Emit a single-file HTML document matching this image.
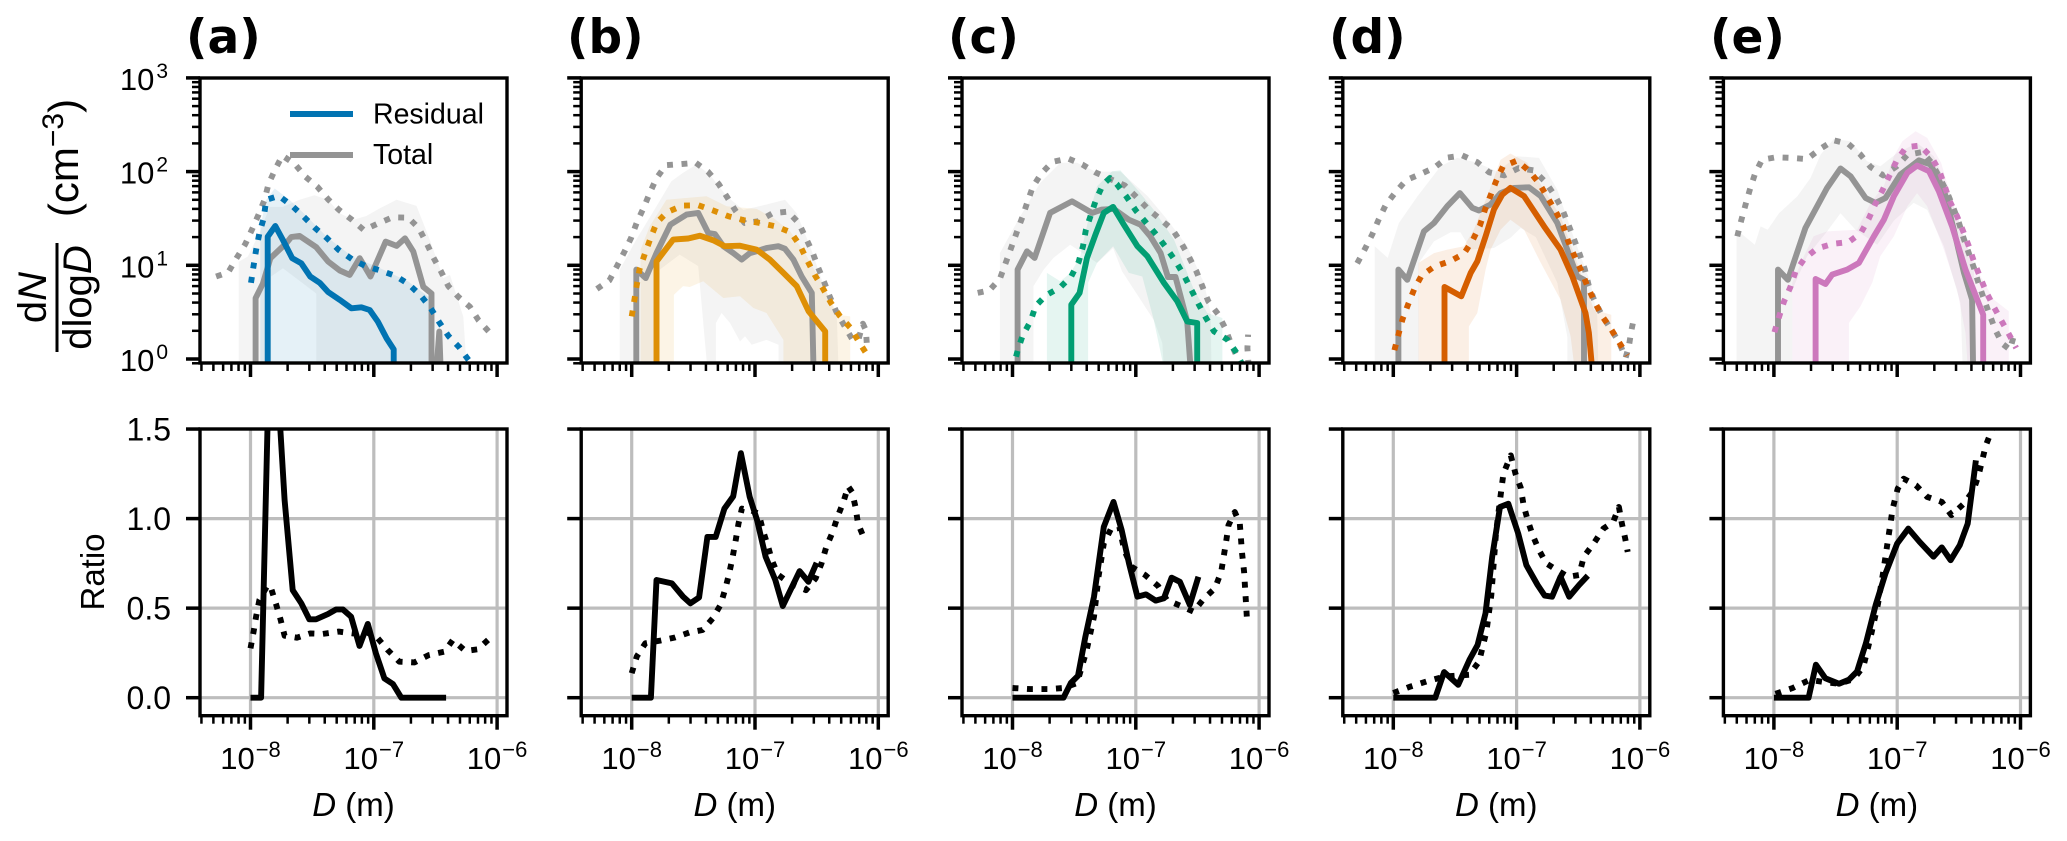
<!DOCTYPE html>
<html lang="en">
<head>
<meta charset="utf-8">
<title>Particle size distributions</title>
<style>
html,body{margin:0;padding:0;background:#fff;}
svg{display:block;font-family:"Liberation Sans",sans-serif;}
</style>
</head>
<body>
<svg id="figure" xmlns="http://www.w3.org/2000/svg" width="2067" height="841" viewBox="0 0 2067 841">
<rect width="2067" height="841" fill="#fff"/>
<g id="plot-area"></g>

<g font-family="'DejaVu Sans',sans-serif" font-weight="700" font-size="47" fill="#000">
<text x="186" y="53">(a)</text>
<text x="567" y="53">(b)</text>
<text x="948" y="53">(c)</text>
<text x="1329" y="53">(d)</text>
<text x="1710" y="53">(e)</text>
</g>

<g fill="#000" text-anchor="middle" font-size="40">
<text transform="translate(46,297.5) rotate(-90)">d<tspan font-style="italic">N</tspan></text>
<line x1="57" x2="57" y1="243" y2="352" stroke="#000" stroke-width="3"/>
<text transform="translate(91,297.5) rotate(-90)">dlog<tspan font-style="italic">D</tspan></text>
<text transform="translate(78,158) rotate(-90)" font-size="42">(cm<tspan dy="-15" font-size="30">−3</tspan><tspan dy="15">)</tspan></text>
</g>
<text transform="translate(104,572) rotate(-90)" text-anchor="middle" font-size="33" fill="#000">Ratio</text>

<g text-anchor="middle" font-size="33" fill="#000">
<text x="353.5" y="816"><tspan font-style="italic">D</tspan> (m)</text>
<text x="734.7" y="816"><tspan font-style="italic">D</tspan> (m)</text>
<text x="1115.5" y="816"><tspan font-style="italic">D</tspan> (m)</text>
<text x="1496.3" y="816"><tspan font-style="italic">D</tspan> (m)</text>
<text x="1876.9" y="816"><tspan font-style="italic">D</tspan> (m)</text>
</g>

<g>
<line x1="290" x2="353" y1="114" y2="114" stroke="#0173b2" stroke-width="6"/>
<text x="373" y="123.5" font-size="28.5" fill="#000">Residual</text>
<line x1="290" x2="353" y1="155" y2="155" stroke="#949494" stroke-width="6"/>
<text x="373" y="164" font-size="28.5" fill="#000">Total</text>
</g>
</svg>

<script>
// Tick definitions
const xTickExponents = [-8, -7, -6];
const yTopExponents = [0, 1, 2, 3];
const ratioTicks = [0, 0.5, 1, 1.5];
const ratioTickLabels = ['0.0', '0.5', '1.0', '1.5'];
const ratioGrid = [0, 0.5, 1];
const minorMultipliers = [2, 3, 4, 5, 6, 7, 8, 9];

// Panel (a): D in nm, N in cm^-3
const aAllD = [11, 11, 12.6, 14.5, 19.5, 21.4, 25, 34.2, 42.5, 53, 63.8, 76.9, 94, 125, 153, 179, 209, 252, 294, 294, 323, 340, 348];
const aAllN = [0.8, 4.45, 6.4, 11.9, 17.2, 20, 20.6, 15.6, 11, 8.8, 7.9, 11.9, 7.6, 17.9, 16.1, 19.4, 14, 5.9, 5, 0.8, 0.8, 1.96, 0.8];
const aAllMaxD = [5.26, 6.6, 7.7, 9.05, 10.3, 11.6, 13, 14, 15.9, 18.1, 22.8, 27.8, 34.8, 42.5, 52.2, 66.7, 83, 106, 142, 190, 232, 268, 303, 351, 402, 485, 603, 705, 910];
const aAllMaxN = [7.6, 8.4, 11.9, 16.8, 24.2, 34.5, 49.9, 73.8, 106, 148, 121, 88.5, 69, 50.7, 39, 30.5, 23.8, 27.6, 32.5, 32.3, 24.8, 17.2, 12.2, 8.6, 6, 4.6, 3.6, 2.6, 1.8];
const aSubD = [13.8, 13.8, 15.9, 18.3, 21.8, 25.8, 30.5, 36.4, 42.5, 53, 65.8, 79.4, 92.7, 108, 127, 145, 145];
const aSubN = [0.8, 20.2, 26.3, 18.6, 11.9, 10.5, 7.6, 6.5, 5.2, 4.27, 3.48, 3.56, 3.33, 2.5, 1.66, 1.27, 0.8];
const aSubMaxD = [10.1, 10.6, 11.1, 11.8, 12.8, 13.4, 17, 21.8, 27, 33.6, 41.8, 51.9, 66.7, 85.5, 113, 150, 191, 241, 290, 337, 402, 494, 585, 684];
const aSubMaxN = [6.5, 9.9, 14.6, 22, 31.8, 49.9, 55, 43, 33, 24.8, 19.4, 14.6, 11.6, 9.84, 8.8, 7.7, 6.3, 4.74, 3.48, 2.5, 1.77, 1.33, 0.98, 0.76];
const aAllBandTopD = [8.04, 8.04, 9.5, 11.8, 14.3, 18.3, 25, 33, 42.5, 53, 68, 87, 112, 153, 222, 285, 366, 415, 532, 567];
const aAllBandTopN = [0.8, 10.9, 12.4, 22, 42, 42, 50, 56, 50, 36, 30.5, 33.6, 40.6, 50, 43, 18.6, 7.3, 7.9, 2.83, 0.8];
const aAllBandLowD = [8.04, 14.7, 14.7, 18.3, 34.2, 34.2, 567];
const aAllBandLowN = [0.8, 0.8, 7.6, 9.3, 5, 0.8, 0.8];
const aSubBandTopD = [12, 12, 13.4, 15.7, 20.7, 27, 41.8, 66.7, 113, 191, 277, 277];
const aSubBandTopN = [0.8, 25.9, 49.9, 66, 50, 36, 20, 12.4, 9.3, 6.7, 4.6, 0.8];
const aSubBandLowD = [12, 277];
const aSubBandLowN = [0.8, 0.8];
const aRatioD = [10, 12.2, 14.4, 16.1, 18.9, 22, 25.8, 30, 34, 42.4, 49.5, 56, 65.5, 76.5, 89.4, 104, 122, 143, 167, 386];
const aRatioV = [0, 0, 2.1, 1.9, 1.104, 0.601, 0.527, 0.438, 0.438, 0.467, 0.493, 0.493, 0.452, 0.289, 0.412, 0.248, 0.108, 0.076, 0, 0];
const aRatioMaxD = [10, 10.6, 11.1, 11.8, 13.8, 14.7, 16.1, 17.5, 18.9, 23.8, 30.5, 38.6, 52, 67.6, 81.5, 108, 130, 161, 214, 279, 374, 437, 553, 697, 867];
const aRatioMaxV = [0.276, 0.369, 0.453, 0.546, 0.629, 0.611, 0.523, 0.438, 0.346, 0.335, 0.359, 0.356, 0.369, 0.359, 0.378, 0.331, 0.266, 0.201, 0.197, 0.238, 0.257, 0.322, 0.261, 0.27, 0.33];

// Panel (b)
const bAllD = [10.9, 10.9, 13, 15.9, 20.6, 27.8, 34.6, 41.8, 47.3, 55.3, 66.7, 78, 91, 103, 124, 155, 175, 205, 239, 289, 298];
const bAllN = [0.8, 9, 7.3, 13.5, 27.2, 34.8, 36.2, 22.1, 21.6, 16, 13.5, 11.5, 13.5, 14.1, 15.3, 16, 15, 11.5, 7.6, 5.07, 0.8];
const bAllMaxD = [5.22, 6.6, 7.6, 8.7, 9.9, 11, 12.5, 14, 15.9, 18.9, 24.5, 33.1, 41.5, 50.7, 59.6, 69.7, 82.4, 106, 139, 185, 226, 257, 292, 325, 364, 405, 456, 530, 622, 692, 750, 794, 809];
const bAllMaxN = [5.6, 6.9, 9.8, 13.8, 19.7, 28.6, 41, 59, 85, 117, 120, 124, 100, 74, 53, 38, 28.3, 29.5, 36, 37.4, 28.3, 19.9, 13.9, 9.5, 6.6, 4.6, 3.2, 2.27, 1.58, 1.64, 2.38, 2.02, 1.36];
const bSubD = [15.9, 15.9, 21.7, 28.7, 35.7, 45.8, 57, 75.5, 103, 132, 170, 218, 272, 371, 371];
const bSubN = [0.8, 11, 18.8, 19.3, 20.7, 18.5, 16, 16.2, 14.7, 11.5, 8.3, 6, 3.23, 1.97, 0.8];
const bSubMaxD = [10, 10.5, 11, 11.6, 12.8, 14.2, 15.9, 19.4, 25.8, 34.8, 45.8, 61, 81.8, 110, 148, 195, 232, 263, 305, 355, 412, 485, 596, 692, 819];
const bSubMaxN = [2.85, 4.2, 6.2, 9.1, 13.3, 19.4, 28.3, 37, 43.4, 43.7, 38.4, 33.3, 30.2, 28.3, 26, 22.5, 16.2, 11.5, 7.9, 5.7, 4, 2.9, 2.14, 1.54, 1.09];
const bAllBandTopD = [8, 8, 10.9, 15.9, 21, 26.1, 33.6, 43, 58.9, 80.4, 124, 175, 218, 280, 355, 461, 476];
const bAllBandTopN = [0.8, 9, 18.8, 42.7, 79, 97, 119, 93, 54.6, 39, 44.5, 50, 36, 16, 6.5, 2.85, 0.8];
const bAllBandLowD = [8, 16.9, 16.9, 24.5, 34.6, 41, 48.2, 48.2, 53.6, 62.7, 75.5, 83, 94, 124, 155, 155, 476];
const bAllBandLowN = [0.8, 0.8, 9, 13, 9.8, 0.8, 0.8, 2.42, 3.1, 2.42, 1.54, 1.75, 1.42, 1.6, 1.42, 0.8, 0.8];
const bSubBandTopD = [11.8, 11.8, 14, 19.1, 26.1, 40.4, 58.9, 103, 141, 193, 263, 383, 470, 592, 592];
const bSubBandTopN = [0.8, 14.7, 26, 50, 52, 54.6, 42.7, 40, 32, 23, 12.5, 5.07, 2.97, 2.85, 0.8];
const bSubBandLowD = [11.8, 22, 22, 26.1, 29.6, 38, 55.3, 75.5, 97, 124, 170, 170, 592];
const bSubBandLowN = [0.8, 0.8, 4.86, 6, 5.87, 6.75, 4.48, 4.67, 3.5, 3.1, 1.6, 0.8, 0.8];
const bRatioD = [10, 14.3, 15.9, 21.2, 26.1, 29.9, 35.2, 41.1, 48, 56.5, 66.5, 76.9, 90.6, 104, 122, 146, 168, 230, 271, 316];
const bRatioV = [0, 0, 0.657, 0.638, 0.564, 0.527, 0.56, 0.898, 0.898, 1.056, 1.124, 1.365, 1.121, 0.991, 0.787, 0.657, 0.512, 0.707, 0.647, 0.753];
const bRatioMaxD = [10, 11, 12.9, 17, 22.4, 29.4, 37.6, 45.4, 52.5, 57.5, 61.8, 65.9, 69.7, 73.5, 78.3, 93, 107, 117, 128, 137, 153, 192, 259, 310, 346, 379, 427, 467, 521, 570, 613, 653, 684, 769];
const bRatioMaxV = [0.137, 0.23, 0.304, 0.319, 0.336, 0.364, 0.378, 0.443, 0.518, 0.61, 0.694, 0.787, 0.879, 0.972, 1.056, 1.046, 1.028, 0.926, 0.842, 0.768, 0.688, 0.638, 0.601, 0.666, 0.75, 0.842, 0.926, 1.009, 1.093, 1.18, 1.148, 1.065, 0.972, 0.889];

// Panel (c)
const cAllD = [11, 11, 13.1, 15.1, 20.2, 30.4, 44.2, 53, 66.2, 87.7, 109, 131, 159, 182, 210, 261, 278];
const cAllN = [0.8, 9, 14.1, 12, 36.2, 48.2, 36.2, 39.3, 40, 30.7, 27.2, 20.4, 13.5, 7.5, 7.5, 2.52, 0.8];
const cAllMaxD = [5.22, 6.5, 7.9, 8.8, 9.75, 10.8, 12, 13.2, 14.6, 17.1, 21.1, 28.2, 36.8, 47, 61.8, 81.5, 101, 125, 157, 199, 234, 270, 310, 346, 387, 464, 530, 589, 667, 755, 819, 804, 815];
const cAllMaxN = [5.07, 5.4, 7.2, 10.6, 15.3, 22.3, 32.5, 47.4, 68.6, 95, 127, 138, 119, 98, 83.5, 71, 53.7, 40.3, 31.2, 24, 17.3, 12.3, 8.6, 6, 4.13, 3.02, 2.14, 1.48, 1.03, 0.77, 0.91, 1.31, 1.82];
const cSubD = [30, 30, 35, 40.2, 47, 55, 65.4, 79.9, 103, 124, 169, 217, 261, 315, 315];
const cSubN = [0.8, 3.8, 5.07, 12, 21.2, 36.2, 42, 27.2, 16, 12.5, 6.5, 4.13, 2.52, 2.42, 0.8];
const cSubMaxD = [10, 11, 12.1, 14, 15.4, 18.7, 24.4, 30, 34.4, 37.3, 39.4, 43.3, 47.6, 54.2, 61.8, 70, 84, 100, 121, 147, 177, 210, 244, 280, 321, 368, 431, 553, 658, 731];
const cSubMaxN = [0.75, 1.23, 1.79, 2.52, 3.68, 4.79, 5.82, 7.63, 10.9, 16, 24, 34.8, 50, 72.6, 85.5, 73.8, 54, 38.4, 28.6, 21.2, 15.3, 11.1, 7.95, 5.59, 3.9, 2.79, 1.97, 1.61, 1.16, 0.87];
const cAllBandTopD = [7.9, 7.9, 11.5, 16.8, 24.4, 33.4, 47, 75, 125, 180, 261, 357, 405, 410];
const cAllBandTopN = [0.8, 13.5, 33, 76, 124, 124, 100, 100, 54.6, 30.7, 16, 6.5, 3.1, 0.8];
const cAllBandLowD = [7.9, 14.8, 14.8, 17.9, 21.5, 29.4, 48.5, 65.4, 77.4, 140, 164, 169, 410];
const cAllBandLowN = [0.8, 0.8, 6, 9, 12, 16.6, 10.6, 15.3, 8.6, 2.6, 1.48, 0.8, 0.8];
const cSubBandTopD = [19, 19, 24.4, 29.6, 35.5, 42.8, 48.5, 64.3, 75, 103, 140, 204, 296, 380, 504, 504];
const cSubBandTopN = [0.8, 8.3, 6.75, 8.3, 12.5, 39, 70, 101, 103, 64, 39, 18.8, 5.5, 3.1, 2.74, 0.8];
const cSubBandLowD = [19, 41, 41, 48.5, 65.4, 87.7, 113, 140, 169, 504];
const cSubBandLowN = [0.8, 0.8, 6.5, 10.6, 16, 8.3, 7.6, 2.6, 0.8, 0.8];
const cRatioD = [10, 25.9, 29.7, 34, 39, 45.8, 55, 65.9, 76.9, 88, 103, 121, 145, 169, 195, 228, 274, 322];
const cRatioV = [0, 0, 0.082, 0.122, 0.341, 0.564, 0.954, 1.093, 0.935, 0.75, 0.564, 0.577, 0.542, 0.555, 0.67, 0.647, 0.518, 0.675];
const cRatioMaxD = [10, 14, 19.7, 25.9, 33.4, 40, 45.8, 49.8, 55, 64.1, 73.5, 80.5, 92.2, 119, 152, 179, 239, 294, 359, 438, 493, 540, 565, 635, 697, 728, 755, 783, 798];
const cRatioMaxV = [0.054, 0.048, 0.048, 0.054, 0.082, 0.267, 0.453, 0.675, 0.861, 0.954, 0.954, 0.824, 0.731, 0.685, 0.623, 0.545, 0.508, 0.481, 0.555, 0.61, 0.703, 0.87, 0.963, 1.037, 0.972, 0.805, 0.703, 0.527, 0.434];

// Panel (d)
const dAllD = [11, 11, 13, 17.7, 21.4, 27.4, 34.7, 43.7, 49.5, 61.5, 74.2, 95, 126, 157, 214, 310, 352, 352];
const dAllN = [0.8, 9, 7, 23, 28.3, 42.7, 59, 41, 38.4, 44.5, 59, 67, 68, 54.6, 28.3, 7.63, 7, 0.8];
const dAllMaxD = [5.1, 5.9, 6.76, 7.6, 8.67, 10.4, 12.7, 16.6, 21.5, 27.4, 36.2, 48, 60, 79.4, 104, 138, 172, 203, 234, 262, 292, 324, 358, 384, 424, 489, 578, 676, 765, 815, 851, 905];
const dAllMaxN = [10.5, 15, 21.4, 30.7, 44, 60, 81, 94, 110, 141, 149, 126, 98, 91, 109, 103, 77, 56, 40, 27.6, 19, 13.2, 9, 6.17, 4.3, 2.97, 2.11, 1.52, 1.03, 1.37, 2, 2.95];
const dSubD = [26, 26, 35.6, 42.4, 48, 56, 65.5, 76.5, 89, 115, 167, 227, 283, 362, 386, 411];
const dSubN = [0.8, 5.87, 4.67, 8.3, 11, 20.4, 39.3, 56.8, 67, 54.6, 26, 14.7, 7.63, 3.1, 1.9, 0.75];
const dSubMaxD = [10.2, 11, 11.9, 13.2, 14.8, 17, 21.6, 29, 37.4, 44, 50.4, 55.4, 61.5, 68.4, 77.5, 101, 127, 153, 178, 207, 238, 261, 295, 334, 374, 424, 489, 578, 676, 789];
const dSubMaxN = [1.24, 1.82, 2.67, 3.84, 5.59, 7.8, 9.7, 11.1, 13.3, 18.5, 26.5, 39.3, 55.9, 80, 114, 131, 101, 74.5, 53, 37.7, 26.7, 18.2, 12.5, 8.77, 6.07, 4.2, 2.93, 2.13, 1.52, 1.09];
const dAllBandTopD = [7.06, 7.06, 9, 11.1, 15.7, 24.2, 33, 48, 69.7, 101, 152, 214, 295, 398, 451, 460];
const dAllBandTopN = [0.8, 16, 12, 28.3, 54.6, 114, 140, 124, 100, 146, 140, 64, 18.8, 6.5, 2.85, 0.8];
const dAllBandLowD = [7.06, 16.1, 16.1, 21.4, 29.2, 35, 42.4, 65.5, 89, 108, 143, 214, 258, 258, 460];
const dAllBandLowN = [0.8, 0.8, 10.6, 18, 22.5, 22.5, 14.7, 15.3, 19.6, 25, 20, 6.5, 1.7, 0.8, 0.8];
const dSubBandTopD = [16, 16, 21.4, 27.4, 37.4, 45, 57.8, 74.2, 89, 122, 167, 227, 310, 424, 586, 586];
const dSubBandTopN = [0.8, 10.6, 13.5, 14.7, 16, 24, 54.6, 134, 156, 124, 64, 33.3, 10.6, 3.36, 2.97, 0.8];
const dSubBandLowD = [16, 41, 41, 48, 56, 61.5, 74.2, 89, 115, 157, 227, 274, 295, 586];
const dSubBandLowN = [0.8, 0.8, 2.23, 3.1, 9, 14.7, 24, 30.7, 24, 10.6, 4.3, 1.75, 0.8, 0.8];
const dRatioD = [10, 21.9, 25.8, 33.6, 41.4, 48.3, 55.9, 63.4, 73.4, 85.7, 103, 120, 148, 169, 194, 227, 267, 321, 378];
const dRatioV = [0, 0, 0.143, 0.072, 0.211, 0.295, 0.471, 0.787, 1.065, 1.083, 0.917, 0.74, 0.629, 0.57, 0.564, 0.675, 0.564, 0.629, 0.681];
const dRatioMaxD = [10, 13.9, 18.7, 26.2, 41.4, 49.6, 56.9, 62.3, 65.2, 68.2, 73.4, 78.2, 89.7, 98, 108, 114, 123, 135, 152, 174, 213, 262, 321, 351, 422, 506, 607, 676, 714, 760, 796];
const dRatioMaxV = [0.026, 0.063, 0.091, 0.119, 0.128, 0.202, 0.369, 0.573, 0.75, 0.926, 1.102, 1.25, 1.353, 1.25, 1.173, 1.074, 0.991, 0.907, 0.824, 0.75, 0.712, 0.675, 0.685, 0.787, 0.861, 0.944, 0.981, 1.065, 0.972, 0.889, 0.814];

// Panel (e)
const eAllD = [10.8, 10.8, 13, 18, 27, 34.7, 41.9, 55.4, 66.7, 80.4, 106, 150, 186, 239, 288, 348, 405, 413];
const eAllN = [0.8, 9, 7, 25, 67, 108, 89, 52.3, 46.3, 52.3, 93, 132, 119, 64, 24, 8.3, 4.3, 0.8];
const eAllMaxD = [5.05, 5.43, 5.89, 6.38, 7.01, 8, 10.4, 14.1, 18.6, 23.9, 30.6, 40.3, 50.4, 60.8, 77, 99, 121, 160, 190, 222, 254, 284, 316, 345, 381, 419, 459, 505, 561, 624, 710, 820, 893];
const eAllMaxN = [20.4, 30, 44.5, 64, 94, 134, 142, 140, 136, 176, 216, 197, 152, 112, 91, 114, 151, 162, 124, 85.5, 60, 41.6, 28.8, 19.6, 13.5, 9.4, 6.3, 4.37, 3, 2.06, 1.46, 1.26, 1.85];
const eSubD = [21.8, 21.8, 26.2, 29.7, 39.3, 48.9, 64.7, 78, 94, 121, 145, 181, 218, 279, 358, 498, 498];
const eSubN = [0.8, 7.15, 6.32, 7.95, 9, 10.6, 20.4, 30.7, 54.6, 97, 116, 101, 61.7, 26, 9, 2.97, 0.8];
const eSubMaxD = [10.1, 11, 12.1, 13.6, 15, 17.7, 22.4, 29.9, 40.3, 50.7, 58.6, 66.4, 76, 86.7, 99, 118, 153, 190, 220, 243, 267, 306, 343, 381, 419, 468, 527, 600, 697, 804, 923];
const eSubMaxN = [1.93, 2.81, 4.13, 5.87, 8.63, 11.8, 15.1, 16.9, 17.7, 22.1, 31.2, 45.2, 63.2, 91.4, 131, 182, 190, 142, 101, 70, 48.2, 33.3, 23, 16, 11, 7.63, 5.19, 3.71, 2.59, 1.85, 1.31];
const eAllBandTopD = [4.98, 4.98, 7, 7.8, 8.9, 11, 15.5, 19.8, 23.9, 30.6, 41.9, 57, 73, 100, 145, 198, 254, 348, 419, 430];
const eAllBandTopN = [0.8, 24, 16.6, 26, 24, 36, 54.6, 85.5, 152, 223, 211, 129, 114, 158, 202, 146, 70, 20.4, 9.75, 0.8];
const eAllBandLowD = [4.98, 14.1, 14.1, 18.6, 27, 34.7, 45.9, 68.8, 94, 136, 175, 239, 326, 340, 430];
const eAllBandLowN = [0.8, 0.8, 5.5, 12.5, 23, 36, 24, 16.6, 30, 46.3, 39, 16, 3.96, 0.8, 0.8];
const eSubBandTopD = [14.1, 14.1, 17.5, 21, 27, 47.4, 60.8, 78, 94, 110, 141, 175, 227, 288, 370, 474, 608, 804, 804];
const eSubBandTopN = [0.8, 6.5, 12.5, 20.4, 23, 24, 46.3, 70, 146, 211, 270, 229, 124, 42.7, 16, 7.63, 4.3, 3.23, 0.8];
const eSubBandLowD = [14.1, 40.6, 40.6, 50.4, 62.7, 73, 94, 121, 145, 175, 239, 306, 358, 374, 804];
const eSubBandLowN = [0.8, 0.8, 2.42, 3.65, 6.5, 12.5, 20.4, 42.7, 59, 42.7, 14.7, 5.5, 1.9, 0.8, 0.8];
const eRatioD = [10, 19.1, 21.9, 26.1, 33.7, 40.5, 47.3, 55.7, 66.9, 80.3, 100, 123, 152, 197, 230, 271, 322, 373, 435];
const eRatioV = [0, 0, 0.184, 0.109, 0.078, 0.1, 0.147, 0.304, 0.518, 0.694, 0.861, 0.944, 0.87, 0.787, 0.839, 0.768, 0.852, 0.972, 1.325];
const eRatioMaxD = [10.3, 14.2, 19.5, 26.8, 33.7, 44.3, 53.2, 61, 70, 76.7, 84, 92, 101, 113, 142, 175, 230, 275, 347, 416, 456, 523, 583, 656];
const eRatioMaxV = [0.022, 0.054, 0.1, 0.085, 0.078, 0.104, 0.174, 0.341, 0.527, 0.694, 0.879, 1.056, 1.167, 1.223, 1.186, 1.121, 1.093, 1.019, 1.083, 1.158, 1.241, 1.408, 1.492, 1.585];

// Layout and style (separate from data)
const NS = 'http://www.w3.org/2000/svg';
const AX_W = 307;
const TOP_Y0 = 78, TOP_Y1 = 363;
const RATIO_Y0 = 429, RATIO_Y1 = 715.7;
const GREY = '#949494';
const panels = [
  {id: 'a', left: 200, color: '#0173b2', all: [aAllD, aAllN], allMax: [aAllMaxD, aAllMaxN], sub: [aSubD, aSubN], subMax: [aSubMaxD, aSubMaxN], allTop: [aAllBandTopD, aAllBandTopN], allLow: [aAllBandLowD, aAllBandLowN], subTop: [aSubBandTopD, aSubBandTopN], subLow: [aSubBandLowD, aSubBandLowN], ratio: [aRatioD, aRatioV], ratioMax: [aRatioMaxD, aRatioMaxV]},
  {id: 'b', left: 581.2, color: '#de8f05', all: [bAllD, bAllN], allMax: [bAllMaxD, bAllMaxN], sub: [bSubD, bSubN], subMax: [bSubMaxD, bSubMaxN], allTop: [bAllBandTopD, bAllBandTopN], allLow: [bAllBandLowD, bAllBandLowN], subTop: [bSubBandTopD, bSubBandTopN], subLow: [bSubBandLowD, bSubBandLowN], ratio: [bRatioD, bRatioV], ratioMax: [bRatioMaxD, bRatioMaxV]},
  {id: 'c', left: 962, color: '#029e73', all: [cAllD, cAllN], allMax: [cAllMaxD, cAllMaxN], sub: [cSubD, cSubN], subMax: [cSubMaxD, cSubMaxN], allTop: [cAllBandTopD, cAllBandTopN], allLow: [cAllBandLowD, cAllBandLowN], subTop: [cSubBandTopD, cSubBandTopN], subLow: [cSubBandLowD, cSubBandLowN], ratio: [cRatioD, cRatioV], ratioMax: [cRatioMaxD, cRatioMaxV]},
  {id: 'd', left: 1342.8, color: '#d55e00', all: [dAllD, dAllN], allMax: [dAllMaxD, dAllMaxN], sub: [dSubD, dSubN], subMax: [dSubMaxD, dSubMaxN], allTop: [dAllBandTopD, dAllBandTopN], allLow: [dAllBandLowD, dAllBandLowN], subTop: [dSubBandTopD, dSubBandTopN], subLow: [dSubBandLowD, dSubBandLowN], ratio: [dRatioD, dRatioV], ratioMax: [dRatioMaxD, dRatioMaxV]},
  {id: 'e', left: 1723.4, color: '#cc78bc', all: [eAllD, eAllN], allMax: [eAllMaxD, eAllMaxN], sub: [eSubD, eSubN], subMax: [eSubMaxD, eSubMaxN], allTop: [eAllBandTopD, eAllBandTopN], allLow: [eAllBandLowD, eAllBandLowN], subTop: [eSubBandTopD, eSubBandTopN], subLow: [eSubBandLowD, eSubBandLowN], ratio: [eRatioD, eRatioV], ratioMax: [eRatioMaxD, eRatioMaxV]}
];

// Axis functions
function xScale(left, dNm) { return left + 50.5 + 123.3 * (Math.log10(dNm) - 1); }
function yTop(n) { return 359 - 93.7 * Math.log10(n); }
function yRatio(r) { return 697.7 - 179.1 * r; }

const root = document.getElementById('plot-area');

function make(tag, parent, attrs) {
  const el = document.createElementNS(NS, tag);
  for (const k in attrs) el.setAttribute(k, attrs[k]);
  parent.appendChild(el);
  return el;
}

function drawLine(parent, left, series, yFn, color, dotted, clip, name) {
  const pts = series[0].map((d, i) => xScale(left, d).toFixed(1) + ',' + yFn(series[1][i]).toFixed(1));
  const el = make('polyline', parent, {points: pts.join(' '), fill: 'none', stroke: color, 'stroke-width': 5.9, 'stroke-linejoin': 'round', 'clip-path': 'url(#' + clip + ')'});
  if (dotted) el.setAttribute('stroke-dasharray', '5.9 8.6');
  
  
}

function drawBand(parent, left, top, low, color, opacity, clip, name) {
  const upper = top[0].map((d, i) => xScale(left, d).toFixed(1) + ',' + yTop(top[1][i]).toFixed(1));
  const lower = low[0].map((d, i) => xScale(left, d).toFixed(1) + ',' + yTop(low[1][i]).toFixed(1)).reverse();
  const el = make('polygon', parent, {points: upper.concat(lower).join(' '), fill: color, 'fill-opacity': opacity, stroke: 'none', 'clip-path': 'url(#' + clip + ')'});
  
  
}

function drawTick(parent, x1, y1, x2, y2, major) {
  const el = make('line', parent, {x1: x1, y1: y1, x2: x2, y2: y2, stroke: '#000', 'stroke-width': major ? 3.5 : 2.5});
  
  
}

function drawXTicks(parent, left, yBase) {
  const right = left + AX_W;
  [-9, -8, -7, -6].forEach(function (exp) {
    minorMultipliers.concat([10]).forEach(function (m) {
      const x = xScale(left, m * Math.pow(10, exp + 9));
      if (x < left - 1 || x > right + 1) return;
      const major = m === 10;
      drawTick(parent, x, yBase, x, yBase + (major ? 14 : 8), major);
    });
  });
}

function drawSpine(parent, left, y0, y1, name) {
  const el = make('rect', parent, {x: left, y: y0, width: AX_W, height: y1 - y0, fill: 'none', stroke: '#000', 'stroke-width': 3.4});
  
  
}

const defs = make('defs', root, {});

panels.forEach(function (p, idx) {
  const g = make('g', root, {});
  
  

  const clipTop = 'clip-top-' + p.id;
  const clipRatio = 'clip-ratio-' + p.id;
  const c1 = make('clipPath', defs, {id: clipTop});
  make('rect', c1, {x: p.left, y: TOP_Y0, width: AX_W, height: TOP_Y1 - TOP_Y0});
  const c2 = make('clipPath', defs, {id: clipRatio});
  make('rect', c2, {x: p.left, y: RATIO_Y0, width: AX_W, height: RATIO_Y1 - RATIO_Y0});

  // Distribution axes
  const topG = make('g', g, {});
  
  
  drawBand(topG, p.left, p.allTop, p.allLow, '#808080', 0.09, clipTop, 'total-range-band');
  drawBand(topG, p.left, p.subTop, p.subLow, p.color, 0.1, clipTop, 'residual-range-band');
  drawLine(topG, p.left, p.allMax, yTop, GREY, true, clipTop, 'total-dotted-line');
  drawLine(topG, p.left, p.all, yTop, GREY, false, clipTop, 'total-line');
  drawLine(topG, p.left, p.subMax, yTop, p.color, true, clipTop, 'residual-dotted-line');
  drawLine(topG, p.left, p.sub, yTop, p.color, false, clipTop, 'residual-line');
  drawSpine(topG, p.left, TOP_Y0, TOP_Y1, 'distribution-axes-frame');
  drawXTicks(topG, p.left, TOP_Y1);

  const decades = [-1, 0, 1, 2];
  decades.forEach(function (dec) {
    minorMultipliers.forEach(function (m) {
      const y = yTop(m * Math.pow(10, dec));
      if (y > TOP_Y1 + 1 || y < TOP_Y0 - 1) return;
      drawTick(topG, p.left - 8, y, p.left, y, false);
    });
  });
  yTopExponents.forEach(function (exp) {
    const y = yTop(Math.pow(10, exp));
    drawTick(topG, p.left - 14, y, p.left, y, true);
    if (idx === 0) {
      const t = make('text', topG, {x: 168, y: y + 12, 'text-anchor': 'end', 'font-size': 31, fill: '#000'});
      
      
      t.appendChild(document.createTextNode('10'));
      const s = make('tspan', t, {dy: -12, 'font-size': 21, dx: 2});
      s.textContent = String(exp);
    }
  });

  // Ratio axes
  const botG = make('g', g, {});
  
  
  xTickExponents.forEach(function (exp) {
    const x = xScale(p.left, Math.pow(10, exp + 9));
    const gl = make('line', botG, {x1: x, x2: x, y1: RATIO_Y0, y2: RATIO_Y1, stroke: '#bdbdbd', 'stroke-width': 3.2});
    
    
  });
  ratioGrid.forEach(function (r) {
    const y = yRatio(r);
    const gl = make('line', botG, {x1: p.left, x2: p.left + AX_W, y1: y, y2: y, stroke: '#bdbdbd', 'stroke-width': 3.2});
    
    
  });
  drawLine(botG, p.left, p.ratioMax, yRatio, '#000', true, clipRatio, 'ratio-dotted-line');
  drawLine(botG, p.left, p.ratio, yRatio, '#000', false, clipRatio, 'ratio-line');
  drawSpine(botG, p.left, RATIO_Y0, RATIO_Y1, 'ratio-axes-frame');
  drawXTicks(botG, p.left, RATIO_Y1);
  ratioTicks.forEach(function (r, i) {
    const y = yRatio(r);
    drawTick(botG, p.left - 14, y, p.left, y, true);
    if (idx === 0) {
      const t = make('text', botG, {x: 171, y: y + 11.5, 'text-anchor': 'end', 'font-size': 32, fill: '#000'});
      
      
      t.textContent = ratioTickLabels[i];
    }
  });
  xTickExponents.forEach(function (exp) {
    const x = xScale(p.left, Math.pow(10, exp + 9));
    const t = make('text', botG, {x: x, y: 769, 'text-anchor': 'middle', 'font-size': 31, fill: '#000'});
    
    
    t.appendChild(document.createTextNode('10'));
    const s = make('tspan', t, {dy: -12, 'font-size': 22, dx: 1});
    s.textContent = '\u2212' + Math.abs(exp);
  });
});
</script>
</body>
</html>
